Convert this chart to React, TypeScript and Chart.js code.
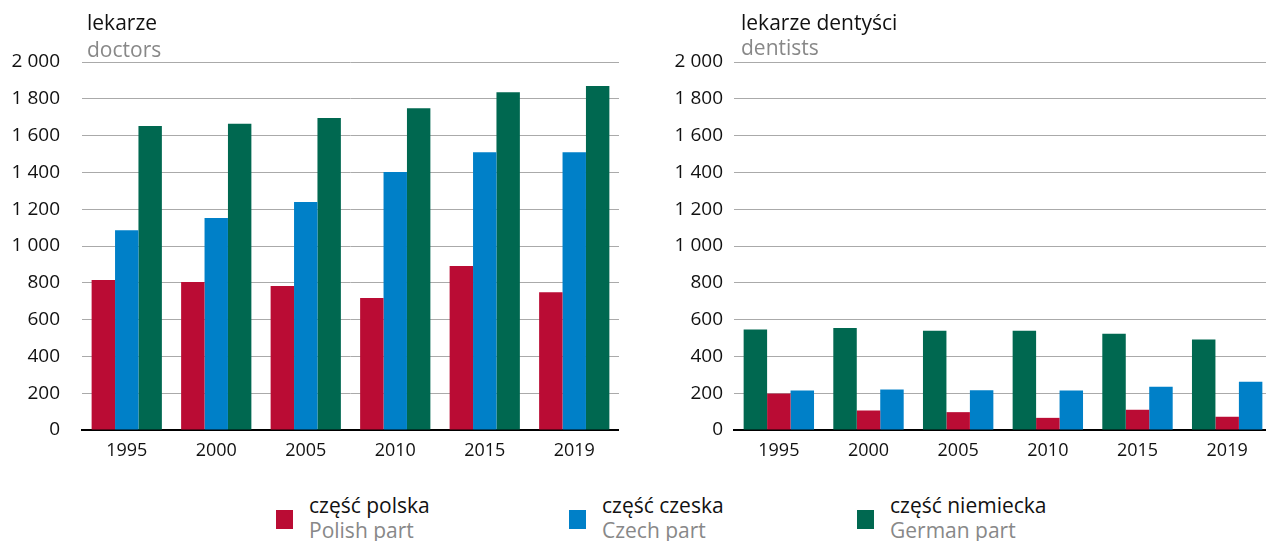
import React, { useEffect, useRef } from 'react';
import { Chart, registerables } from 'chart.js';
Chart.register(...registerables);

const years = ['1995', '2000', '2005', '2010', '2015', '2019'];
const doctorsPL = [815, 804, 782, 718, 891, 749];
const doctorsCZ = [1086, 1152, 1239, 1402, 1510, 1510];
const doctorsDE = [1652, 1664, 1695, 1749, 1836, 1869];
const dentistsPL = [198, 106, 97, 66, 110, 72];
const dentistsCZ = [215, 220, 216, 215, 235, 262];
const dentistsDE = [546, 555, 539, 539, 523, 492];
const yTicksMax = 2000;
const yStep = 200;

const RED = '#BA0C34';
const BLUE = '#0080C8';
const GREEN = '#006850';
const FONT = "'Open Sans', sans-serif";

const fmt = (v: number) =>
  v >= 1000 ? `${Math.floor(v / 1000)}\u00a0${String(v % 1000).padStart(3, '0')}` : String(v);

type DS = { label: string; data: number[]; color: string };

function BarChart(props: { datasets: DS[]; left: number; width: number; yWidth: number; yPad: number }) {
  const ref = useRef<HTMLCanvasElement | null>(null);
  useEffect(() => {
    if (!ref.current) return;
    const chart = new Chart(ref.current, {
      type: 'bar',
      data: {
        labels: years,
        datasets: props.datasets.map((d) => ({
          label: d.label,
          data: d.data,
          backgroundColor: d.color,
          borderWidth: 0,
          categoryPercentage: 0.785,
          barPercentage: 1,
        })),
      },
      options: {
        responsive: false,
        animation: false,
        layout: { padding: { top: 62, left: 0, right: 0, bottom: 0 } },
        plugins: { legend: { display: false }, tooltip: { enabled: false } },
        scales: {
          x: {
            grid: { display: false, drawTicks: false },
            border: { display: true, color: '#000', width: 2 },
            ticks: { color: '#111', font: { family: FONT, size: 18 }, padding: 10, maxRotation: 0 },
            afterFit: (s: any) => { s.height = 40; },
          },
          y: {
            min: 0,
            max: yTicksMax,
            grid: { color: '#aaaaaa', lineWidth: 1, drawTicks: false },
            border: { display: false },
            ticks: {
              stepSize: yStep,
              color: '#111',
              font: { family: FONT, size: 19 },
              padding: props.yPad,
              callback: (v: any) => fmt(Number(v)),
            },
            afterFit: (s: any) => { s.width = props.yWidth; },
          },
        },
      },
    });
    return () => chart.destroy();
  }, []);
  return (
    <canvas
      ref={ref}
      width={props.width}
      height={470}
      style={{ position: 'absolute', left: props.left, top: 0, width: props.width, height: 470 }}
    />
  );
}

const textBase: React.CSSProperties = { position: 'absolute', fontFamily: FONT, whiteSpace: 'nowrap', lineHeight: '24px' };

function LegendItem(props: { left: number; color: string; pl: string; en: string }) {
  return (
    <>
      <div style={{ position: 'absolute', left: props.left, top: 510, width: 17, height: 19, background: props.color }} />
      <div style={{ ...textBase, left: props.left + 33, top: 493, fontSize: 21, color: '#111' }}>{props.pl}</div>
      <div style={{ ...textBase, left: props.left + 33, top: 518, fontSize: 21, color: '#888' }}>{props.en}</div>
    </>
  );
}

export default function App() {
  return (
    <div style={{ position: 'fixed', left: 0, top: 0, width: 1266, height: 541, overflow: 'hidden', background: '#fff' }}>
      <BarChart
        left={0}
        width={619}
        yWidth={82}
        yPad={22}
        datasets={[
          { label: 'część polska', data: doctorsPL, color: RED },
          { label: 'część czeska', data: doctorsCZ, color: BLUE },
          { label: 'część niemiecka', data: doctorsDE, color: GREEN },
        ]}
      />
      <BarChart
        left={640}
        width={632}
        yWidth={94}
        yPad={11}
        datasets={[
          { label: 'część niemiecka', data: dentistsDE, color: GREEN },
          { label: 'część polska', data: dentistsPL, color: RED },
          { label: 'część czeska', data: dentistsCZ, color: BLUE },
        ]}
      />
      <div style={{ ...textBase, left: 87, top: 10, fontSize: 21, color: '#111' }}>lekarze</div>
      <div style={{ ...textBase, left: 87, top: 37, fontSize: 21, color: '#888' }}>doctors</div>
      <div style={{ ...textBase, left: 741, top: 10, fontSize: 21, color: '#111' }}>lekarze dentyści</div>
      <div style={{ ...textBase, left: 741, top: 35, fontSize: 21, color: '#888' }}>dentists</div>
      <LegendItem left={276} color={RED} pl="część polska" en="Polish part" />
      <LegendItem left={569} color={BLUE} pl="część czeska" en="Czech part" />
      <LegendItem left={857} color={GREEN} pl="część niemiecka" en="German part" />
    </div>
  );
}
